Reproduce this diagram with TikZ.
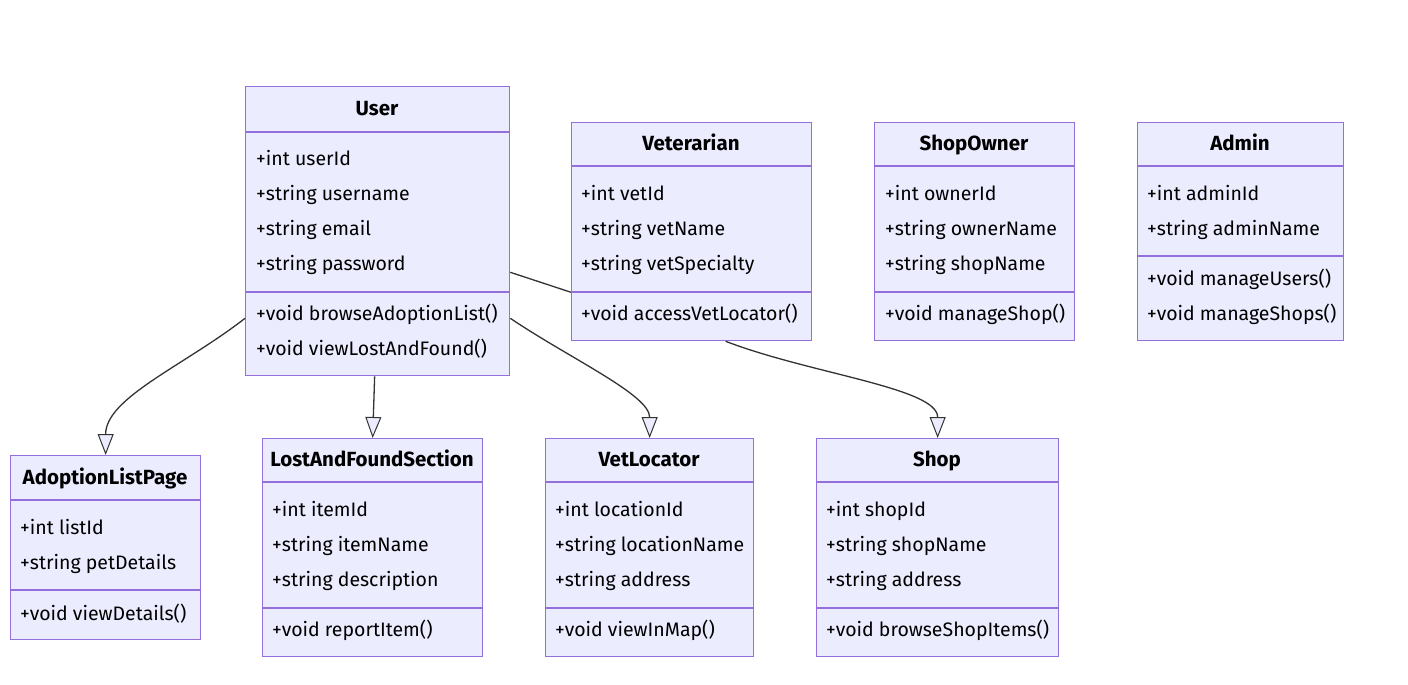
\documentclass[tikz,border=0pt]{standalone}
\usepackage{fontspec}
\setmainfont{Fira Sans}
\usetikzlibrary{arrows.meta}
\definecolor{umlfill}{HTML}{ECECFF}
\definecolor{umlline}{HTML}{9370DB}
\definecolor{umledge}{HTML}{333333}
\begin{document}
\begin{tikzpicture}[x=1pt, y=-1pt,
	cls/.style={draw=umlline, fill=umlfill, line width=1.3pt, inner sep=0pt, anchor=north west},
	sep/.style={draw=umlline, line width=1.1pt},
	title/.style={font=\fontsize{20.5}{24}\selectfont\bfseries, text=black, anchor=base, inner sep=0pt},
	member/.style={font=\fontsize{19.5}{23}\selectfont, text=black, anchor=base west, inner sep=0pt},
	assoc/.style={draw=umledge, line width=1.3pt},
	inherit/.style={draw=umledge, line width=1.3pt, -{Triangle[width=16pt, length=21pt, fill=umlfill, line width=1pt]}}]
		\useasboundingbox (0,0) rectangle (1408,685);
		% upper row
		\node[cls, minimum width=264pt, minimum height=289pt] (user) at (245,86) {};
		\draw[sep] (245,132) -- (509,132);
		\draw[sep] (245,292) -- (509,292);
		\node[title] (usertitle) at (377,115) {User};
		\node[member] at (256,165) {+int userId};
		\node[member] at (256,200) {+string username};
		\node[member] at (256,235) {+string email};
		\node[member] at (256,270) {+string password};
		\node[member] at (256,320) {+void browseAdoptionList()};
		\node[member] at (256,355) {+void viewLostAndFound()};

		\node[cls, minimum width=240pt, minimum height=218pt] (vet) at (571,122) {};
		\draw[sep] (571,166) -- (811,166);
		\draw[sep] (571,292) -- (811,292);
		\node[title] (vettitle) at (691,150) {Veterarian};
		\node[member] at (581,200) {+int vetId};
		\node[member] at (581,235) {+string vetName};
		\node[member] at (581,270) {+string vetSpecialty};
		\node[member] at (581,320) {+void accessVetLocator()};

		\node[cls, minimum width=200pt, minimum height=218pt] (owner) at (874,122) {};
		\draw[sep] (874,166) -- (1074,166);
		\draw[sep] (874,292) -- (1074,292);
		\node[title] (ownertitle) at (974,150) {ShopOwner};
		\node[member] at (885,200) {+int ownerId};
		\node[member] at (885,235) {+string ownerName};
		\node[member] at (885,270) {+string shopName};
		\node[member] at (885,320) {+void manageShop()};

		\node[cls, minimum width=206pt, minimum height=218pt] (admin) at (1137,122) {};
		\draw[sep] (1137,166) -- (1343,166);
		\draw[sep] (1137,256) -- (1343,256);
		\node[title] (admintitle) at (1240,150) {Admin};
		\node[member] at (1147,200) {+int adminId};
		\node[member] at (1147,235) {+string adminName};
		\node[member] at (1147,285) {+void manageUsers()};
		\node[member] at (1147,320) {+void manageShops()};

		% lower row
		\node[cls, minimum width=190pt, minimum height=184pt] (adopt) at (10,455) {};
		\draw[sep] (10,500) -- (200,500);
		\draw[sep] (10,590) -- (200,590);
		\node[title] (adopttitle) at (105,484) {AdoptionListPage};
		\node[member] at (20,534) {+int listId};
		\node[member] at (20,569) {+string petDetails};
		\node[member] at (20,620) {+void viewDetails()};

		\node[cls, minimum width=220pt, minimum height=218pt] (lost) at (262,438) {};
		\draw[sep] (262,482) -- (482,482);
		\draw[sep] (262,608) -- (482,608);
		\node[title] (losttitle) at (372,466) {LostAndFoundSection};
		\node[member] at (272,516) {+int itemId};
		\node[member] at (272,551) {+string itemName};
		\node[member] at (272,586) {+string description};
		\node[member] at (272,636) {+void reportItem()};

		\node[cls, minimum width=208pt, minimum height=218pt] (locator) at (545,438) {};
		\draw[sep] (545,482) -- (753,482);
		\draw[sep] (545,608) -- (753,608);
		\node[title] (locatortitle) at (649,466) {VetLocator};
		\node[member] at (555,516) {+int locationId};
		\node[member] at (555,551) {+string locationName};
		\node[member] at (555,586) {+string address};
		\node[member] at (555,636) {+void viewInMap()};

		\node[cls, minimum width=242pt, minimum height=218pt] (shop) at (816,438) {};
		\draw[sep] (816,482) -- (1058,482);
		\draw[sep] (816,608) -- (1058,608);
		\node[title] (shoptitle) at (937,466) {Shop};
		\node[member] at (826,516) {+int shopId};
		\node[member] at (826,551) {+string shopName};
		\node[member] at (826,586) {+string address};
		\node[member] at (826,636) {+void browseShopItems()};

		% connectors
		\draw[assoc] ([yshift=104pt]user.south east) -- ([yshift=49pt]vet.south west);
		\draw[inherit] ([yshift=58pt]user.south west) to[out=-142, in=90, in looseness=0.75] (adopt.north);
		\draw[inherit] ([xshift=-3pt]user.south) -- (lost.north);
		\draw[inherit] ([yshift=58pt]user.south east) to[out=-34, in=90, in looseness=0.6] (locator.north);
		\draw[inherit] ([xshift=34pt]vet.south) to[out=-21, in=90, in looseness=0.55] (shop.north);
	\end{tikzpicture}
\end{document}
